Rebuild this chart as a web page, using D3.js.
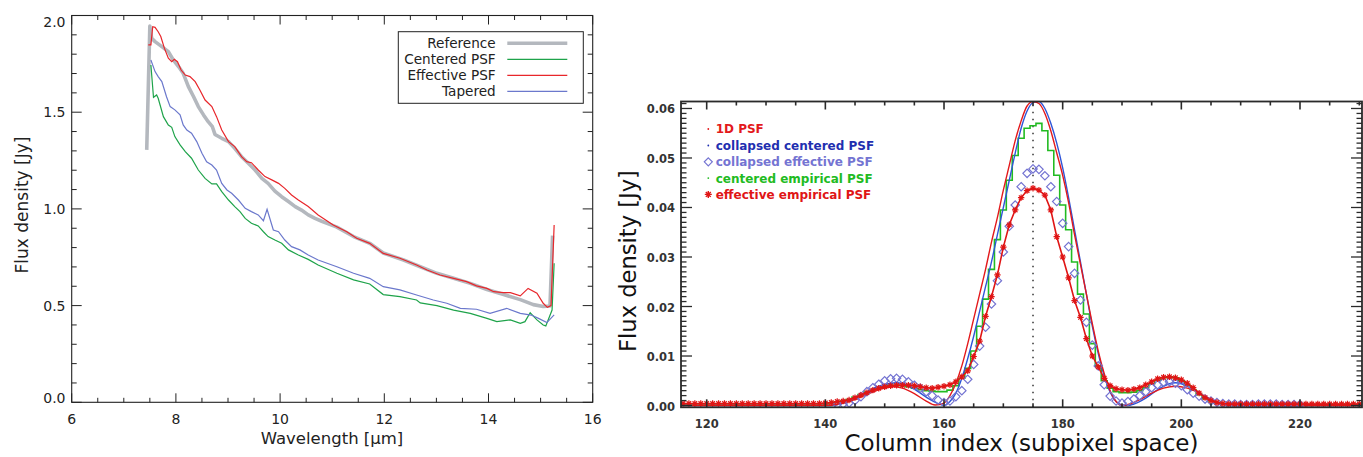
<!DOCTYPE html>
<html><head><meta charset="utf-8">
<script src="https://cdn.jsdelivr.net/npm/d3@7"></script>
<style>body{margin:0;background:#fff;} svg{display:block;}</style>
</head><body>
<script>
// ---------------- LEFT PANEL DATA ----------------
const leftXTicks = [6, 8, 10, 12, 14, 16];
const leftYTicks = [0.0, 0.5, 1.0, 1.5, 2.0];
const legendLabels = ["Reference", "Centered PSF", "Effective PSF", "Tapered"];

const refWave = [7.44,7.50,7.535,7.60,7.73,7.855,7.95,8.05,8.14,8.24,8.34,8.43,8.53,8.62,8.70,8.75,8.88,9.01,9.13,9.26,9.39,9.52,9.65,9.77,9.90,10.03,10.16,10.29,10.41,10.54,10.67,10.80,11.09,11.41,11.72,11.98,12.37,12.69,13.01,13.33,13.65,13.97,14.29,14.61,14.86,15.05,15.18,15.23];
const refFlux = [1.305,1.946,1.882,1.865,1.839,1.813,1.770,1.736,1.701,1.632,1.580,1.529,1.486,1.451,1.425,1.385,1.365,1.348,1.313,1.270,1.236,1.201,1.158,1.132,1.092,1.063,1.038,1.012,0.994,0.969,0.951,0.936,0.906,0.857,0.822,0.772,0.736,0.701,0.667,0.641,0.615,0.583,0.557,0.531,0.505,0.495,0.498,0.862];

const centWave = [7.52,7.57,7.63,7.66,7.76,7.855,7.92,7.98,8.08,8.18,8.30,8.43,8.56,8.69,8.78,8.88,9.01,9.13,9.23,9.33,9.45,9.58,9.68,9.77,9.90,10.03,10.16,10.35,10.54,10.73,11.09,11.41,11.72,11.98,12.30,12.62,12.69,13.01,13.33,13.65,13.97,14.16,14.42,14.61,14.70,14.80,14.93,15.05,15.10,15.22,15.26];
const centFlux = [1.744,1.577,1.589,1.572,1.477,1.434,1.422,1.374,1.331,1.296,1.262,1.201,1.158,1.129,1.129,1.089,1.046,1.012,0.986,0.951,0.926,0.912,0.882,0.857,0.839,0.822,0.788,0.762,0.739,0.710,0.667,0.633,0.612,0.557,0.546,0.529,0.514,0.500,0.477,0.460,0.434,0.417,0.426,0.408,0.417,0.463,0.426,0.400,0.395,0.477,0.719];

const effWave = [7.47,7.52,7.555,7.60,7.66,7.71,7.78,7.855,7.92,7.97,8.03,8.10,8.18,8.27,8.37,8.46,8.56,8.69,8.78,8.88,9.01,9.13,9.26,9.36,9.45,9.58,9.71,9.84,9.97,10.09,10.22,10.35,10.54,10.73,11.02,11.28,11.47,11.72,11.98,12.30,12.62,12.82,13.07,13.33,13.58,13.77,13.97,14.10,14.29,14.42,14.61,14.76,14.93,15.05,15.13,15.20,15.26];
const effFlux = [1.848,1.848,1.942,1.939,1.916,1.891,1.830,1.779,1.761,1.774,1.761,1.718,1.692,1.684,1.658,1.615,1.563,1.529,1.477,1.408,1.348,1.322,1.270,1.244,1.239,1.201,1.167,1.150,1.132,1.106,1.072,1.046,1.012,0.969,0.917,0.882,0.848,0.822,0.770,0.745,0.710,0.684,0.658,0.641,0.624,0.602,0.589,0.572,0.567,0.567,0.550,0.589,0.564,0.512,0.491,0.500,0.917];

const tapWave = [7.52,7.60,7.66,7.73,7.82,7.89,7.98,8.08,8.14,8.21,8.30,8.40,8.50,8.59,8.69,8.78,8.88,8.98,9.07,9.20,9.33,9.45,9.58,9.68,9.75,9.87,9.97,10.09,10.22,10.38,10.54,10.73,11.09,11.41,11.72,11.98,12.30,12.62,12.94,13.20,13.46,13.77,14.03,14.35,14.61,14.82,14.96,15.12,15.26];
const tapFlux = [1.770,1.710,1.684,1.658,1.580,1.529,1.512,1.486,1.434,1.408,1.391,1.348,1.288,1.244,1.227,1.201,1.132,1.098,1.081,1.046,1.003,0.986,0.969,0.939,0.998,0.891,0.882,0.839,0.805,0.788,0.762,0.736,0.701,0.667,0.641,0.598,0.581,0.555,0.529,0.512,0.486,0.481,0.460,0.486,0.460,0.451,0.434,0.412,0.452];

// ---------------- RIGHT PANEL DATA ----------------
const rightXTicks = [120, 140, 160, 180, 200, 220];
const rightYTicks = [0.00, 0.01, 0.02, 0.03, 0.04, 0.05, 0.06];
const rightLegend = ["1D PSF", "collapsed centered PSF", "collapsed effective PSF", "centered empirical PSF", "effective empirical PSF"];
const centerColumn = 175;

const col1D = [116,120,125,130,135,140,142,144,146,148,150,151.5,153,155,157,158.5,160,161,162,163,164,165,166,167,168,169,170,171,172,173,174,175,176,177,178,179,180,181,182,183,184,185,186,187,188,189,190,191,193,195,197,199,201,203,205,207,209,215,220,225,230.4];
const val1D = [0,0,0,0,0,0,0.0002,0.0008,0.0017,0.0027,0.0035,0.0038,0.0035,0.0024,0.0009,0.0001,0.0005,0.0020,0.0045,0.0080,0.0125,0.0175,0.0225,0.0275,0.0330,0.0380,0.0435,0.0485,0.0535,0.0575,0.0605,0.0614,0.0610,0.0590,0.0555,0.0510,0.0465,0.0410,0.0345,0.0285,0.0225,0.0165,0.0110,0.0065,0.0030,0.0008,0.0000,0.0002,0.0012,0.0025,0.0035,0.0039,0.0035,0.0025,0.0013,0.0004,0.0000,0,0,0,0];

const colCC = [116,125,135,141,143,145,147,149,151,152,153,155,157,159,160,161,162,163,164,165,166,167,168,169,170,171,172,173,174,175,176,177,178,179,180,181,182,183,184,185,186,187,188,189,190,191,192,194,196,198,199,200,202,204,206,208,210,220,230.4];
const valCC = [0,0,0,0,0.0005,0.0015,0.0028,0.0039,0.0045,0.0046,0.0044,0.0033,0.0017,0.0004,0.0000,0.0008,0.0025,0.0055,0.0095,0.0140,0.0190,0.0240,0.0290,0.0345,0.0400,0.0455,0.0510,0.0560,0.0595,0.0612,0.0614,0.0600,0.0570,0.0530,0.0480,0.0420,0.0355,0.0290,0.0225,0.0160,0.0105,0.0060,0.0027,0.0008,0.0001,0.0000,0.0003,0.0015,0.0032,0.0044,0.0046,0.0044,0.0033,0.0018,0.0006,0.0001,0,0,0];

const colDiam = d3.range(142, 221);
const valDiam = [0.0002,0.0003,0.0005,0.0010,0.0018,0.0028,0.0036,0.0043,0.0050,0.0054,0.0055,0.0053,0.0048,0.0041,0.0035,0.0028,0.0020,0.0011,0.0006,0.0009,0.0018,0.0030,0.0053,0.0083,0.0120,0.0158,0.0205,0.0252,0.0310,0.0362,0.0405,0.0442,0.0469,0.0478,0.0477,0.0464,0.0442,0.0412,0.0368,0.0321,0.0267,0.0213,0.0168,0.0122,0.0080,0.0042,0.0019,0.0009,0.0005,0.0008,0.0013,0.0020,0.0028,0.0036,0.0042,0.0047,0.0048,0.0045,0.0040,0.0032,0.0025,0.0019,0.0013,0.0009,0.0006,0.0004,0.0003,0.0003,0.0002,0.0002,0.0002,0.0003,0.0003,0.0003,0.0003,0.0002,0.0002,0.0002,0.0002];

const colEmp = d3.range(116, 231);
const valEmpC = [0.0003,0.0003,0.0003,0.0003,0.0003,0.0003,0.0003,0.0003,0.0003,0.0003,0.0003,0.0003,0.0003,0.0003,0.0003,0.0003,0.0003,0.0003,0.0003,0.0003,0.0003,0.0003,0.0003,0.0003,0.0003,
0.0005,0.0007,0.0009,0.0012,0.0017,0.0022,0.0027,0.0032,0.0036,0.0039,0.0041,0.0041,0.0040,0.0038,0.0035,0.0032,0.0030,0.0029,0.0028,0.0028,0.0031,0.0040,0.0055,0.0075,0.0110,0.0160,0.0215,0.0275,0.0335,0.0395,0.0455,0.0505,0.0540,0.0560,0.0565,0.0570,0.0555,0.0515,0.0465,0.0405,0.0355,0.0290,0.0225,0.0185,0.0125,0.0080,0.0050,0.0035,0.0028,0.0026,0.0026,0.0027,0.0030,0.0036,0.0044,0.0051,0.0056,0.0058,0.0056,0.0050,0.0041,0.0031,0.0022,0.0014,0.0009,0.0005,0.0003,
0.0002,0.0002,0.0002,0.0002,0.0002,0.0002,0.0002,0.0002,0.0002,0.0002,0.0002,0.0002,0.0002,0.0002,0.0002,0.0002,0.0002,0.0002,0.0002,0.0002,0.0002,0.0002,0.0002];
const valEmpE = [0.0004,0.0004,0.0004,0.0004,0.0004,0.0004,0.0004,0.0004,0.0004,0.0004,0.0004,0.0004,0.0004,0.0004,0.0004,0.0004,0.0004,0.0004,0.0004,0.0004,0.0004,0.0004,0.0004,0.0004,
0.0005,0.0006,0.0008,0.0009,0.0011,0.0016,0.0021,0.0026,0.0031,0.0035,0.0038,0.0040,0.0041,0.0041,0.0041,0.0040,0.0038,0.0036,0.0035,0.0037,0.0039,0.0042,0.0048,0.0058,0.0070,0.0099,0.0130,0.0180,0.0220,0.0264,0.0320,0.0365,0.0395,0.0420,0.0434,0.0439,0.0435,0.0425,0.0395,0.0341,0.0300,0.0258,0.0212,0.0178,0.0135,0.0100,0.0078,0.0055,0.0040,0.0034,0.0032,0.0031,0.0033,0.0036,0.0042,0.0048,0.0054,0.0057,0.0058,0.0056,0.0052,0.0045,0.0036,0.0025,0.0016,0.0010,0.0006,0.0004,
0.0003,0.0003,0.0003,0.0003,0.0003,0.0003,0.0003,0.0003,0.0003,0.0003,0.0003,0.0003,0.0003,0.0003,0.0003,0.0003,0.0003,0.0003,0.0003,0.0003,0.0003,0.0003,0.0003];

// ---------------- DRAWING ----------------
const W = 1363, H = 457;
const svg = d3.select("body").append("svg").attr("width", W).attr("height", H);

// ===== Left panel =====
const L = {left: 71.7, right: 592.7, top: 15.5, bottom: 402.3};
const lx = d3.scaleLinear().domain([6, 16]).range([L.left, L.right]);
const ly = d3.scaleLinear().domain([0, 2]).range([L.bottom, L.top]);
const lg = svg.append("g");
const lfont = "DejaVu Sans, sans-serif";
const lcol = {ref: "#b4b8be", cent: "#1ea34a", eff: "#e8262b", tap: "#6b78cc"};

const line = (xs, ys, sx, sy, curve) => d3.line().x((d, i) => sx(xs[i])).y((d, i) => sy(ys[i])).curve(curve || d3.curveLinear)(xs);

lg.append("path").attr("d", line(refWave, refFlux, lx, ly)).attr("fill", "none").attr("stroke", lcol.ref).attr("stroke-width", 3.6).attr("stroke-linejoin", "round");
lg.append("path").attr("d", line(centWave, centFlux, lx, ly)).attr("fill", "none").attr("stroke", lcol.cent).attr("stroke-width", 1.2);
lg.append("path").attr("d", line(tapWave, tapFlux, lx, ly)).attr("fill", "none").attr("stroke", lcol.tap).attr("stroke-width", 1.2);
lg.append("path").attr("d", line(effWave, effFlux, lx, ly)).attr("fill", "none").attr("stroke", lcol.eff).attr("stroke-width", 1.2);

// frame
lg.append("rect").attr("x", L.left).attr("y", L.top).attr("width", L.right - L.left).attr("height", L.bottom - L.top)
  .attr("fill", "none").attr("stroke", "#222").attr("stroke-width", 1.1);
// ticks
const lxMinor = d3.range(6, 16.001, 0.5).filter(v => Math.abs(v / 2 - Math.round(v / 2)) > 1e-6);
const lyMinor = d3.range(0, 2.0001, 0.1).map(v => +v.toFixed(2)).filter(v => Math.abs(v / 0.5 - Math.round(v / 0.5)) > 1e-6);
function tickLines(g, vals, scale, orient, len, box) {
  vals.forEach(v => {
    const p = scale(v);
    if (orient === "x") {
      g.append("line").attr("x1", p).attr("x2", p).attr("y1", box.bottom).attr("y2", box.bottom - len).attr("stroke", "#222").attr("stroke-width", 1);
      g.append("line").attr("x1", p).attr("x2", p).attr("y1", box.top).attr("y2", box.top + len).attr("stroke", "#222").attr("stroke-width", 1);
    } else {
      g.append("line").attr("y1", p).attr("y2", p).attr("x1", box.left).attr("x2", box.left + len).attr("stroke", "#222").attr("stroke-width", 1);
      g.append("line").attr("y1", p).attr("y2", p).attr("x1", box.right).attr("x2", box.right - len).attr("stroke", "#222").attr("stroke-width", 1);
    }
  });
}
tickLines(lg, leftXTicks, lx, "x", 9, L);
tickLines(lg, lxMinor, lx, "x", 4.5, L);
tickLines(lg, leftYTicks, ly, "y", 10, L);
tickLines(lg, lyMinor, ly, "y", 5, L);

lg.selectAll("text.xt").data(leftXTicks).enter().append("text")
  .attr("x", d => lx(d)).attr("y", 423.5).attr("text-anchor", "middle")
  .attr("font-family", lfont).attr("font-size", 14).attr("fill", "#222").text(d => d);
lg.selectAll("text.yt").data(leftYTicks).enter().append("text")
  .attr("x", 65.5).attr("y", d => Math.min(Math.max(ly(d), L.top + 6), L.bottom - 4) + 5)
  .attr("text-anchor", "end").attr("font-family", lfont).attr("font-size", 14).attr("fill", "#222").text(d => d.toFixed(1));
lg.append("text").attr("x", 332).attr("y", 444).attr("text-anchor", "middle")
  .attr("font-family", lfont).attr("font-size", 16.5).attr("fill", "#222").text("Wavelength [µm]");
lg.append("text").attr("transform", "translate(27.5,205) rotate(-90)").attr("text-anchor", "middle")
  .attr("font-family", lfont).attr("font-size", 17).attr("fill", "#222").text("Flux density [Jy]");

// legend
lg.append("rect").attr("x", 398.3).attr("y", 31.7).attr("width", 185).attr("height", 71.6)
  .attr("fill", "#fff").attr("stroke", "#222").attr("stroke-width", 1);
const legCols = [lcol.ref, lcol.cent, lcol.eff, lcol.tap];
const legW = [3.6, 1.2, 1.2, 1.2];
legendLabels.forEach((t, i) => {
  const yy = 43.3 + i * 16;
  lg.append("text").attr("x", 495.7).attr("y", yy + 4.8).attr("text-anchor", "end")
    .attr("font-family", lfont).attr("font-size", 13.6).attr("fill", "#222").text(t);
  lg.append("line").attr("x1", 507.3).attr("x2", 567.3).attr("y1", yy).attr("y2", yy)
    .attr("stroke", legCols[i]).attr("stroke-width", legW[i]);
});

// ===== Right panel =====
const R = {left: 681, right: 1362, top: 101.5, bottom: 407.3};
const rx = d3.scaleLinear().domain([115.67, 230.45]).range([R.left, R.right]);
const ry = d3.scaleLinear().domain([-0.00036, 0.06141]).range([R.bottom, R.top]);
const rg = svg.append("g");
const rfont = "DejaVu Sans, sans-serif";
const rc = {psf1d: "#e3191c", cc: "#2f55d8", ce: "#7474d2", empc: "#22bb22", empe: "#e01515"};

svg.append("defs").append("clipPath").attr("id", "rclip").append("rect")
  .attr("x", R.left).attr("y", R.top).attr("width", R.right - R.left).attr("height", R.bottom - R.top);
const plot = rg.append("g").attr("clip-path", "url(#rclip)");

// dotted centre line
plot.append("line").attr("x1", rx(centerColumn)).attr("x2", rx(centerColumn)).attr("y1", R.bottom).attr("y2", R.top)
  .attr("stroke", "#333").attr("stroke-width", 1.5).attr("stroke-dasharray", "1.5,5.5");

// green step
plot.append("path").attr("d", line(colEmp, valEmpC, rx, ry, d3.curveStep)).attr("fill", "none").attr("stroke", rc.empc).attr("stroke-width", 1.6);
// blue collapsed centered
plot.append("path").attr("d", line(colCC, valCC, rx, ry, d3.curveMonotoneX)).attr("fill", "none").attr("stroke", rc.cc).attr("stroke-width", 1.4);
// red 1D psf
plot.append("path").attr("d", line(col1D, val1D, rx, ry, d3.curveMonotoneX)).attr("fill", "none").attr("stroke", rc.psf1d).attr("stroke-width", 1.4);
// diamonds
const diamond = r => `M0,${-r}L${r},0L0,${r}L${-r},0Z`;
plot.selectAll("path.dia").data(colDiam).enter().append("path")
  .attr("transform", (d, i) => `translate(${rx(d)},${ry(valDiam[i])})`)
  .attr("d", diamond(4.2)).attr("fill", "none").attr("stroke", rc.ce).attr("stroke-width", 1.2);
// effective empirical line + asterisks
plot.append("path").attr("d", line(colEmp, valEmpE, rx, ry)).attr("fill", "none").attr("stroke", rc.empe).attr("stroke-width", 1.6);
const asterisk = r => { const a = r * 0.707; return `M${-r},0L${r},0M0,${-r}L0,${r}M${-a},${-a}L${a},${a}M${-a},${a}L${a},${-a}`; };
plot.selectAll("path.ast").data(colEmp).enter().append("path")
  .attr("transform", (d, i) => `translate(${rx(d)},${ry(valEmpE[i])})`)
  .attr("d", asterisk(3.2)).attr("fill", "none").attr("stroke", rc.empe).attr("stroke-width", 1.2);

// frame
rg.append("rect").attr("x", R.left).attr("y", R.top).attr("width", R.right - R.left).attr("height", R.bottom - R.top)
  .attr("fill", "none").attr("stroke", "#2a2a2a").attr("stroke-width", 1.8);
const rxMinor = d3.range(120, 231, 5).filter(v => v % 20 !== 0);
const ryMinor = d3.range(0, 62).map(v => v / 1000).filter((v, i) => i % 10 !== 0);
function rTicks(vals, scale, orient, len) {
  vals.forEach(v => {
    const p = scale(v);
    if (orient === "x") {
      rg.append("line").attr("x1", p).attr("x2", p).attr("y1", R.bottom).attr("y2", R.bottom - len).attr("stroke", "#2a2a2a").attr("stroke-width", 1.6);
      rg.append("line").attr("x1", p).attr("x2", p).attr("y1", R.top).attr("y2", R.top + len).attr("stroke", "#2a2a2a").attr("stroke-width", 1.6);
    } else {
      rg.append("line").attr("y1", p).attr("y2", p).attr("x1", R.left).attr("x2", R.left + len).attr("stroke", "#2a2a2a").attr("stroke-width", 1.3);
      rg.append("line").attr("y1", p).attr("y2", p).attr("x1", R.right).attr("x2", R.right - len).attr("stroke", "#2a2a2a").attr("stroke-width", 1.3);
    }
  });
}
rTicks(rightXTicks, rx, "x", 8);
rTicks(rxMinor, rx, "x", 4);
rTicks(rightYTicks, ry, "y", 11);
rTicks(ryMinor, ry, "y", 5.5);

rg.selectAll("text.xt").data(rightXTicks).enter().append("text")
  .attr("x", d => rx(d)).attr("y", 428).attr("text-anchor", "middle")
  .attr("font-family", rfont).attr("font-weight", "bold").attr("font-size", 11.5).attr("fill", "#333").text(d => d);
rg.selectAll("text.yt").data(rightYTicks).enter().append("text")
  .attr("x", 675).attr("y", d => ry(d) + 5).attr("text-anchor", "end")
  .attr("font-family", rfont).attr("font-weight", "bold").attr("font-size", 11.5).attr("fill", "#333").text(d => d.toFixed(2));
rg.append("text").attr("x", 1021.5).attr("y", 451).attr("text-anchor", "middle")
  .attr("font-family", rfont).attr("font-size", 23).attr("fill", "#111").text("Column index (subpixel space)");
rg.append("text").attr("transform", "translate(636,261) rotate(-90)").attr("text-anchor", "middle")
  .attr("font-family", rfont).attr("font-size", 22.6).attr("fill", "#111").text("Flux density [Jy]");

// right legend
const rLegCol = [rc.psf1d, "#1f2fb0", rc.ce, rc.empc, rc.empe];
const rLegY = [129, 145.5, 161.8, 178.1, 194.4];
rightLegend.forEach((t, i) => {
  const yy = rLegY[i];
  rg.append("text").attr("x", 715.7).attr("y", yy + 4.4).attr("font-family", rfont).attr("font-weight", "bold")
    .attr("font-size", 12).attr("fill", rLegCol[i]).text(t);
  if (i === 2) {
    rg.append("path").attr("transform", `translate(708.3,${yy})`).attr("d", diamond(4)).attr("fill", "none").attr("stroke", rc.ce).attr("stroke-width", 1.2);
  } else if (i === 4) {
    rg.append("path").attr("transform", `translate(708.3,${yy})`).attr("d", asterisk(3.5)).attr("fill", "none").attr("stroke", rc.empe).attr("stroke-width", 1.4);
  } else {
    rg.append("circle").attr("cx", 708.3).attr("cy", yy).attr("r", 0.9).attr("fill", rLegCol[i]);
  }
});
</script>
</body></html>
